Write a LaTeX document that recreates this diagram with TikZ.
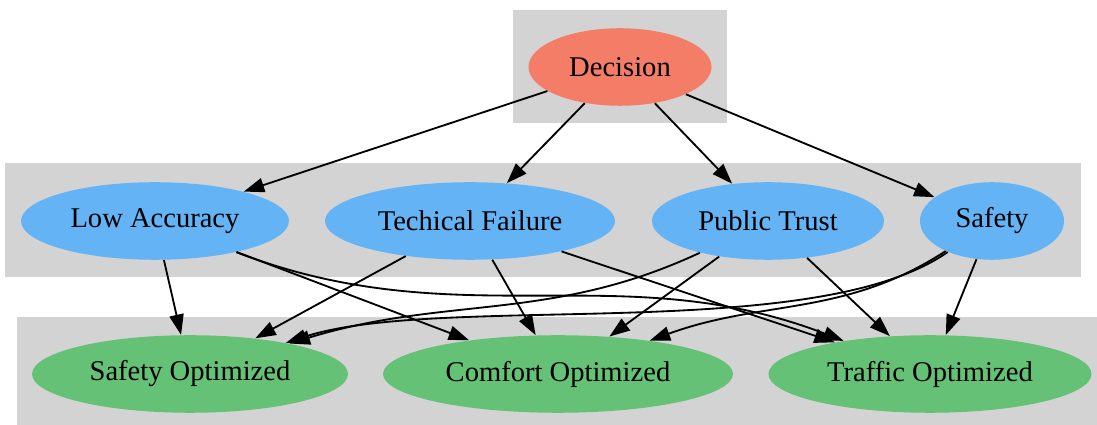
\documentclass[tikz,border=0pt]{standalone}
\usepackage{fontspec}
\setmainfont{Liberation Serif}
\usetikzlibrary{arrows.meta,shapes.geometric}
\definecolor{clustergray}{HTML}{D3D3D3}
\definecolor{decisionred}{HTML}{F47D68}
\definecolor{factorblue}{HTML}{63B3F5}
\definecolor{outcomegreen}{HTML}{65C175}
\newcommand\ovalnode[5]{%
  \node[oval, fill=#1, minimum width=#4] (#2) at (#3) {\makebox[0pt]{#5}}
}
\tikzset{
  oval/.style={ellipse, inner sep=0pt, minimum height=38pt, font=\fontsize{14pt}{16pt}\selectfont},
  cluster/.style={fill=clustergray, draw=none},
  link/.style={-{Triangle[length=10pt,width=7pt]}, line width=0.9pt, black},
}

\begin{document}
\begin{tikzpicture}[x=0.49pt, y=0.49pt]
        \useasboundingbox (0,0) rectangle (1097,-425);
        % The clusters
        \fill[cluster] (513,-10) rectangle (727,-123);
        \fill[cluster] (5,-163) rectangle (1081,-277);
        \fill[cluster] (17,-317) rectangle (1097,-425);

        % The decision
        \ovalnode{decisionred}{dec}{620,-67}{89.7pt}{Decision};

        % The factors
        \ovalnode{factorblue}{acc}{155,-221}{131.3pt}{Low Accuracy};
        \ovalnode{factorblue}{fail}{470,-221}{142.1pt}{Techical Failure};
        \ovalnode{factorblue}{trust}{768,-221}{113.7pt}{Public Trust};
        \ovalnode{factorblue}{safe}{992,-221}{70.6pt}{Safety};

        % The outcomes
        \ovalnode{outcomegreen}{safeopt}{190,-374}{154.8pt}{Safety Optimized};
        \ovalnode{outcomegreen}{comfopt}{558,-374}{171.5pt}{Comfort Optimized};
        \ovalnode{outcomegreen}{trafopt}{930,-374}{158.3pt}{Traffic Optimized};

        % Decision to factors
        \draw[link] (dec) -- (acc);
        \draw[link] (dec) -- (fail);
        \draw[link] (dec) -- (trust);
        \draw[link] (dec) -- (safe);

        % Factors to outcomes
        \draw[link] (acc) -- (safeopt);
        \draw[link] (acc) -- (comfopt);
        \draw[link] (acc) to[out=-21, in=159] (trafopt);
        \draw[link] (fail) -- (safeopt);
        \draw[link] (fail) -- (comfopt);
        \draw[link] (fail) -- (trafopt);
        \draw[link] (trust) to[out=205, in=17] (safeopt);
        \draw[link] (trust) -- (comfopt);
        \draw[link] (trust) -- (trafopt);
        \draw[link] (safe) to[out=215, in=18, looseness=0.62] (safeopt);
        \draw[link] (safe) to[out=213, in=20] (comfopt);
        \draw[link] (safe) -- (trafopt);
\end{tikzpicture}
\end{document}
